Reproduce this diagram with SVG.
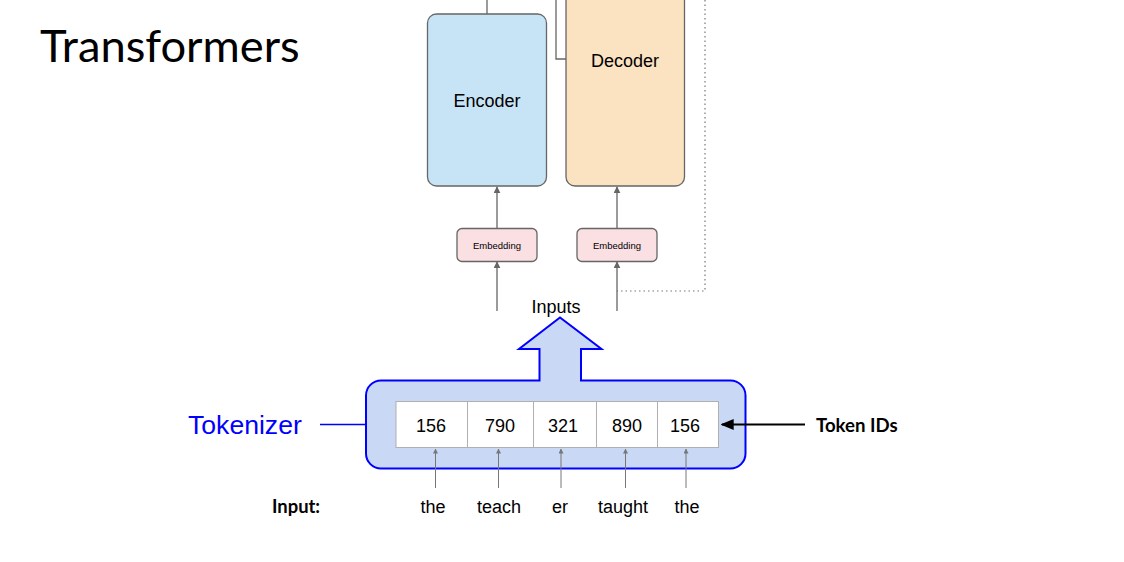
<svg xmlns="http://www.w3.org/2000/svg" width="1124" height="562" viewBox="0 0 1124 562">
<defs>
<style>
.sans{font-family:"Liberation Sans",Arial,sans-serif;fill:#000}
.lato{font-family:Lato,"Liberation Sans",sans-serif;fill:#000}
.box{stroke:#666;stroke-width:1.3}
.gline{stroke:#666;stroke-width:1.3;fill:none}
.thin{stroke:#777;stroke-width:1;fill:none}
.cell{fill:#fff;stroke:#b0b0b0;stroke-width:1}
</style>
<marker id="ah" viewBox="0 0 10 10" refX="9" refY="5" markerWidth="7" markerHeight="7" markerUnits="userSpaceOnUse" orient="auto">
<path d="M0,0 L10,5 L0,10 z" fill="#666"/>
</marker>
<marker id="ahs" viewBox="0 0 10 10" refX="9" refY="5" markerWidth="5" markerHeight="5" markerUnits="userSpaceOnUse" orient="auto">
<path d="M0,0 L10,5 L0,10 z" fill="#777"/>
</marker>
<marker id="ahb" viewBox="0 0 10 10" refX="9" refY="5" markerWidth="13" markerHeight="11" markerUnits="userSpaceOnUse" orient="auto" preserveAspectRatio="none">
<path d="M0,0 L10,5 L0,10 z" fill="#000"/>
</marker>
</defs>
<rect width="1124" height="562" fill="#fff"/>
<text class="lato" x="40" y="62" font-size="45.3">Transformers</text>

<g id="encoder">
<rect class="box" x="427.5" y="14" width="119" height="172" rx="9" fill="#c7e4f6"/>
<text class="sans" x="487" y="107" font-size="18" text-anchor="middle">Encoder</text>
</g>
<g id="decoder">
<rect class="box" x="566" y="-20" width="118.5" height="206" rx="9" fill="#fbe2c0"/>
<text class="sans" x="625" y="67" font-size="18" text-anchor="middle">Decoder</text>
</g>
<g id="embedding1">
<rect class="box" x="457" y="228.5" width="80" height="33" rx="5" fill="#fadfe3"/>
<text class="sans" x="497" y="249" font-size="9.5" text-anchor="middle">Embedding</text>
</g>
<g id="embedding2">
<rect class="box" x="577" y="228.5" width="80" height="33" rx="5" fill="#fadfe3"/>
<text class="sans" x="617" y="249" font-size="9.5" text-anchor="middle">Embedding</text>
</g>

<g id="tokenizer">
<path d="M381,380.5 H539.5 V349 H519 L560,317.5 L601.5,349 H581 V380.5 H730.5 A15,15 0 0 1 745.5,395.5 V453.5 A15,15 0 0 1 730.5,468.5 H381 A15,15 0 0 1 366,453.5 V395.5 A15,15 0 0 1 381,380.5 Z" fill="#c9d8f4" stroke="#0000ff" stroke-width="2"/>
<text x="188" y="434" font-family="Liberation Sans,Arial,sans-serif" font-size="26.6" fill="#0000ff">Tokenizer</text>
</g>
<g id="inputs-label">
<text class="sans" x="556" y="312.5" font-size="18" text-anchor="middle">Inputs</text>
</g>

<g id="token-table">
<rect class="cell" x="396" y="401.5" width="71.5" height="46"/>
<rect class="cell" x="467.5" y="401.5" width="66" height="46"/>
<rect class="cell" x="533.5" y="401.5" width="63" height="46"/>
<rect class="cell" x="596.5" y="401.5" width="61" height="46"/>
<rect class="cell" x="657.5" y="401.5" width="61" height="46"/>
<text class="sans" font-size="18" text-anchor="middle" y="431.5"><tspan x="431">156</tspan><tspan x="500">790</tspan><tspan x="563">321</tspan><tspan x="627">890</tspan><tspan x="685">156</tspan></text>
</g>

<g id="token-ids-label">
<text class="lato" x="816" y="432" font-size="18.6" font-weight="bold">Token IDs</text>
</g>
<g id="input-words">
<text class="lato" x="272" y="513" font-size="18.4" font-weight="bold">Input:</text>
<text class="sans" font-size="18" text-anchor="middle" y="513"><tspan x="433">the</tspan><tspan x="499">teach</tspan><tspan x="560">er</tspan><tspan x="623">taught</tspan><tspan x="687">the</tspan></text>
</g>

<g id="connectors">
<line class="gline" x1="487" y1="0" x2="487" y2="14"/>
<polyline class="gline" points="556,0 556,59 566,59"/>
<polyline fill="none" stroke="#777" stroke-width="1.2" stroke-dasharray="1.5,3" points="705,0 705,291 617,291"/>
<line class="gline" x1="497" y1="228" x2="497" y2="187" marker-end="url(#ah)"/>
<line class="gline" x1="617" y1="228" x2="617" y2="187" marker-end="url(#ah)"/>
<line class="gline" x1="497" y1="311" x2="497" y2="262" marker-end="url(#ah)"/>
<line class="gline" x1="617" y1="311" x2="617" y2="262" marker-end="url(#ah)"/>
<line class="thin" x1="435.5" y1="488" x2="435.5" y2="449" marker-end="url(#ahs)"/>
<line class="thin" x1="498.5" y1="488" x2="498.5" y2="449" marker-end="url(#ahs)"/>
<line class="thin" x1="561" y1="488" x2="561" y2="449" marker-end="url(#ahs)"/>
<line class="thin" x1="625.5" y1="488" x2="625.5" y2="449" marker-end="url(#ahs)"/>
<line class="thin" x1="686" y1="488" x2="686" y2="449" marker-end="url(#ahs)"/>
<line stroke="#0000ff" stroke-width="1.5" x1="320" y1="424.5" x2="366" y2="424.5"/>
<line stroke="#000" stroke-width="2" x1="805" y1="424.5" x2="722" y2="424.5" marker-end="url(#ahb)"/>
</g>
</svg>
